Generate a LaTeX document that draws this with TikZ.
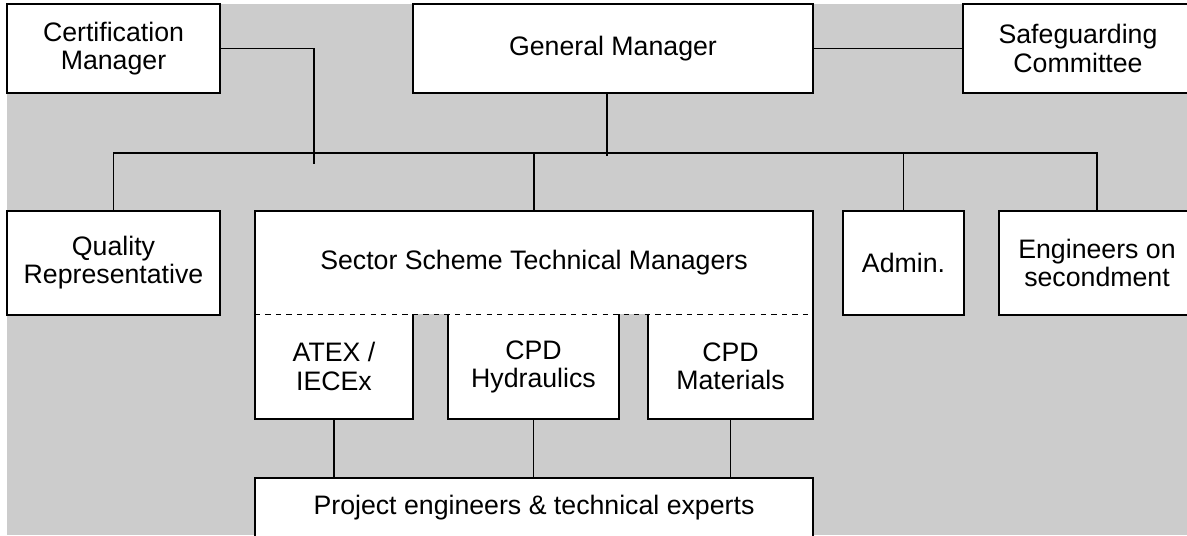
\documentclass[tikz,border=0pt]{standalone}
\usepackage{fontspec}
\setmainfont{Liberation Sans}
\usetikzlibrary{positioning}
\definecolor{bggray}{HTML}{CCCCCC}
\tikzset{
  unit/.style={rectangle,draw,line width=1.1pt,fill=white,align=center,
    font=\fontsize{15.2}{16}\selectfont,inner sep=0pt},
  sub/.style={rectangle,fill=white,align=center,
    font=\fontsize{15.2}{16}\selectfont,inner sep=0pt},
  link/.style={line width=1pt}
}

\begin{document}
\begin{tikzpicture}[x=0.02cm,y=-0.02cm]
            \useasboundingbox (0,0) rectangle (1187,535);
            \clip (0,0) rectangle (1187,535);
            \fill [bggray] (7,4) rectangle (1187,535);

            % top row
            \node [unit,minimum width=4.26cm,minimum height=1.78cm] (cert) at (113.5,48.5) {Certification\\Manager};
            \node [unit,minimum width=8cm,minimum height=1.78cm] (gm) at (613,48.5) {General Manager};
            \node [unit,minimum width=4.6cm,minimum height=1.78cm] (safe) at (1078,48.5) {Safeguarding\\Committee};

            % second row
            \node [unit,minimum width=4.26cm,minimum height=2.08cm] (qual) at (113.5,263) {Quality\\Representative};
            \node [sub,minimum width=11.16cm,minimum height=2.06cm] (sstm) at (534,262.5) {Sector Scheme Technical Managers};
            \node [unit,minimum width=2.42cm,minimum height=2.08cm] (admin) at (903.5,263) {Admin.};
            \node [unit,minimum width=3.92cm,minimum height=2.08cm] (eng) at (1097,263) {Engineers on\\secondment};

            % sector groups
            \node [sub,minimum width=3.16cm,minimum height=2.1cm] (atex) at (334,366.5) {ATEX /\\IECEx};
            \node [sub,minimum width=3.42cm,minimum height=2.1cm] (hydr) at (533.5,366.5) {CPD\\Hydraulics};
            \node [sub,minimum width=3.3cm,minimum height=2.1cm] (mat) at (730.5,366.5) {CPD\\Materials};
            \node [unit,minimum width=11.16cm,minimum height=1.2cm] (proj) at (534,508) {Project engineers \& technical experts};

            \draw [line width=1.1pt] (sstm.south west) |- (sstm.north east) -- (sstm.south east);
            \draw [dashed,line width=0.6pt] (sstm.south west) -- (sstm.south east);
            \draw [line width=1.1pt] (atex.north west) |- (atex.south east) -- (atex.north east);
            \draw [line width=1.1pt] (hydr.north west) |- (hydr.south east) -- (hydr.north east);
            \draw [line width=1.1pt] (mat.north west) |- (mat.south east) -- (mat.north east);

            % connectors
            \coordinate (certend) at (314,164);
            \coordinate (gmfoot) at (607,156);
            \coordinate (bus) at (0,153);
            \draw [link] (cert.east) -| (certend);
            \draw [link] (gm.east) -- (safe.west);
            \draw [link] (gm.south -| gmfoot) -- (gmfoot);
            \draw [link] (qual.north) |- (bus -| eng.north) -- (eng.north);
            \draw [link] (sstm.north) -- (sstm.north |- bus);
            \draw [link] (admin.north) -- (admin.north |- bus);
            \draw [link] (atex.south) -- (atex.south |- proj.north);
            \draw [link] (hydr.south) -- (hydr.south |- proj.north);
            \draw [link] (mat.south) -- (mat.south |- proj.north);
        \end{tikzpicture}
\end{document}
